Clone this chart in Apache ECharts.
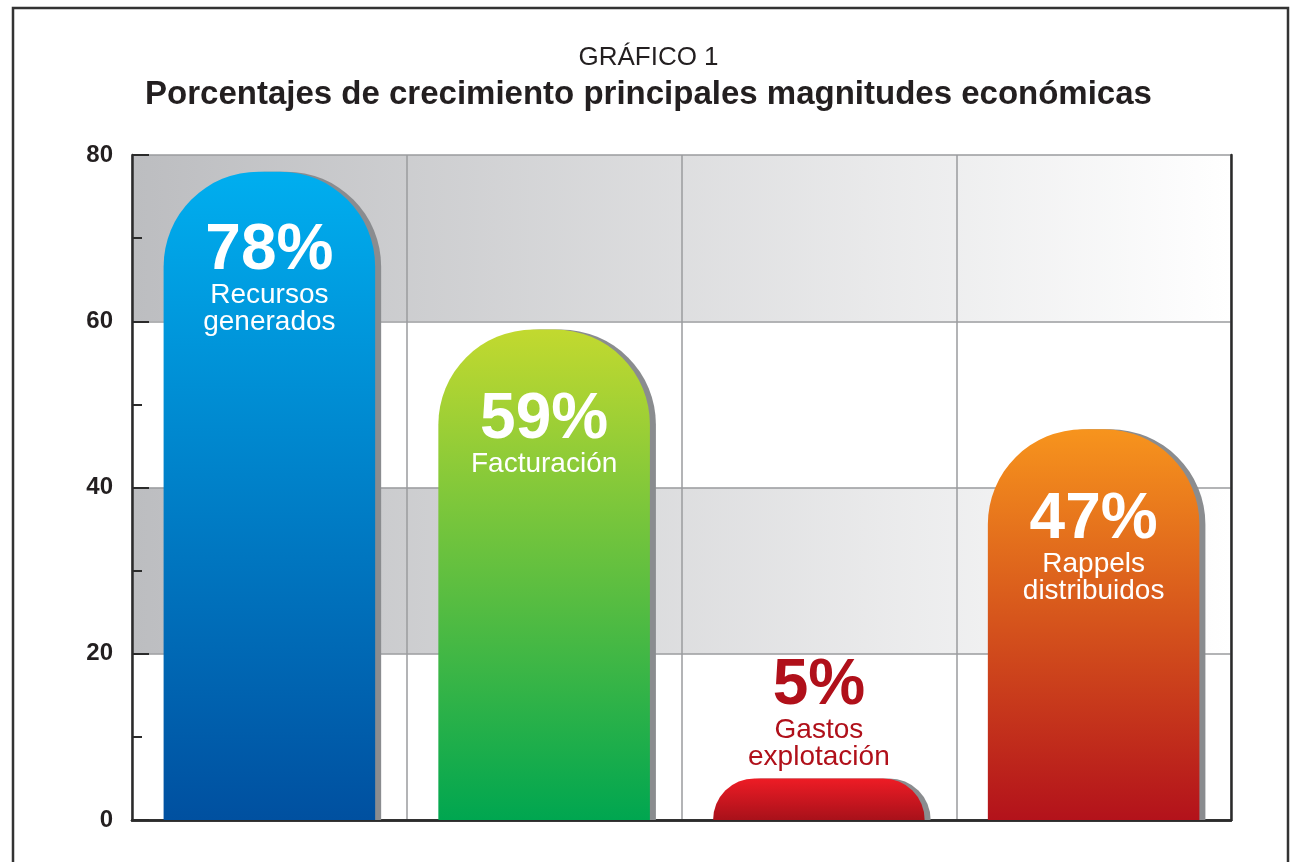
<!DOCTYPE html>
<html>
<head>
<meta charset="utf-8">
<script src="https://cdn.jsdelivr.net/npm/echarts@6/dist/echarts.min.js"></script>
<style>
  html, body { margin: 0; padding: 0; background: #fff; }
  #chart { width: 1297px; height: 862px; }
</style>
</head>
<body>
<div id="chart"></div>
<script>
// data
const categories = ['Recursos generados', 'Facturación', 'Gastos explotación', 'Rappels distribuidos']
const values = [78, 59, 5, 47]
const labelNames = [['Recursos', 'generados'], ['Facturación'], ['Gastos', 'explotación'], ['Rappels', 'distribuidos']]
const yTicks = [0, 20, 40, 60, 80]

// top / bottom colours of each bar
const barColors = [
  ['#00aeef', '#0050a0'],
  ['#c2d92f', '#00a650'],
  ['#ee1c25', '#a8111a'],
  ['#f7941d', '#b3121b']
]
const fontFamily = `'Liberation Sans', Arial, Helvetica, sans-serif`
const darkText = '#231f20'

const chart = echarts.init(document.getElementById('chart'))

const bandGradient = {
  type: 'linear', x: 0, y: 0, x2: 1, y2: 0,
  colorStops: [
    { offset: 0, color: '#bcbdc0' },
    { offset: 1, color: '#ffffff' }
  ]
}

const seriesData = values.map((v, i) => {
  const small = v < 15
  const lines = ['{p|' + v + '%}'].concat(labelNames[i].map(t => '{n|' + t + '}'))
  return {
    value: v,
    itemStyle: {
      color: {
        type: 'linear', x: 0, y: 0, x2: 0, y2: 1,
        colorStops: [
          { offset: 0, color: barColors[i][0] },
          { offset: 1, color: barColors[i][1] }
        ]
      }
    },
    label: {
      show: true,
      position: small ? 'top' : 'insideTop',
      distance: small ? 8 : (i === 0 ? 50 : 61),
      formatter: lines.join('\n'),
      color: small ? '#b0101a' : '#ffffff'
    }
  }
})

const option = {
  animation: false,
  backgroundColor: '#ffffff',
  title: {
    text: 'GRÁFICO 1',
    subtext: 'Porcentajes de crecimiento principales magnitudes económicas',
    left: 'center',
    top: 39,
    itemGap: 6,
    textStyle: {
      color: darkText,
      fontWeight: 'normal',
      fontSize: 26,
      lineHeight: 28,
      fontFamily: fontFamily
    },
    subtextStyle: {
      color: darkText,
      fontWeight: 'bold',
      fontSize: 33,
      lineHeight: 34,
      fontFamily: fontFamily
    }
  },
  graphic: [{
    type: 'rect',
    silent: true,
    shape: { x: 13, y: 8, width: 1275, height: 900 },
    style: { fill: 'none', stroke: '#333333', lineWidth: 2.5 }
  }],
  grid: {
    left: 132,
    right: 66,
    top: 155,
    bottom: 42,
    containLabel: false
  },
  xAxis: [{
    type: 'category',
    data: categories,
    boundaryGap: true,
    axisLine: { lineStyle: { color: '#2b2b2b', width: 2.5 } },
    axisTick: { show: false },
    axisLabel: { show: false },
    splitLine: { show: true, lineStyle: { color: '#9a9b9e', width: 1.5 } }
  }, {
    type: 'category',
    position: 'top',
    data: categories,
    axisLine: { lineStyle: { color: '#2b2b2b', width: 2.5 } },
    axisTick: { show: false },
    axisLabel: { show: false }
  }],
  yAxis: [{
    type: 'value',
    min: yTicks[0],
    max: yTicks[yTicks.length - 1],
    interval: 20,
    axisLine: { show: true, lineStyle: { color: '#2b2b2b', width: 2.5 } },
    axisTick: { show: true, inside: true, length: 17, lineStyle: { color: '#2b2b2b', width: 2 } },
    minorTick: { show: true, splitNumber: 2, length: 10, lineStyle: { color: '#2b2b2b', width: 2 } },
    axisLabel: {
      margin: 19,
      color: darkText,
      fontSize: 24,
      fontWeight: 'bold',
      fontFamily: fontFamily
    },
    splitLine: { show: true, lineStyle: { color: '#9a9b9e', width: 1.5 } },
    splitArea: { show: true, areaStyle: { color: ['#ffffff', bandGradient] } }
  }, {
    type: 'value',
    position: 'right',
    min: yTicks[0],
    max: yTicks[yTicks.length - 1],
    interval: 20,
    axisLine: { show: true, lineStyle: { color: '#2b2b2b', width: 2.5 } },
    axisTick: { show: false },
    axisLabel: { show: false },
    splitLine: { show: false }
  }],
  series: [{
    type: 'bar',
    barWidth: '77%',
    itemStyle: {
      borderRadius: [95, 95, 0, 0],
      shadowColor: '#8a8c8f',
      shadowOffsetX: 6,
      shadowOffsetY: 0,
      shadowBlur: 0
    },
    label: {
      rich: {
        p: { fontSize: 64, fontWeight: 'bold', lineHeight: 60, fontFamily: fontFamily },
        n: { fontSize: 28, lineHeight: 27, fontFamily: fontFamily }
      }
    },
    data: seriesData
  }]
}

chart.setOption(option)
</script>
</body>
</html>
